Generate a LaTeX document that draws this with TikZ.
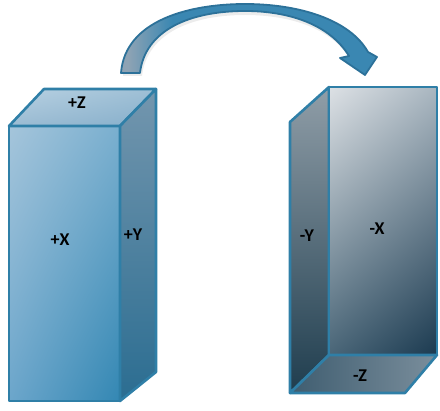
\documentclass[tikz,border=0pt]{standalone}
\usepackage{fontspec}
\setmainfont{Carlito}
\usetikzlibrary{shadings}
\definecolor{edgeblue}{HTML}{2F7FA7}
\definecolor{arrowblue}{HTML}{3A87B2}
\definecolor{arrowedge}{HTML}{2C7199}
\definecolor{tailgrey}{HTML}{8EA3B4}
% upright block palette
\definecolor{pxul}{HTML}{A5C5DB}
\definecolor{pxur}{HTML}{7AAFCF}
\definecolor{pxll}{HTML}{6CA6CB}
\definecolor{pxlr}{HTML}{3387B3}
\definecolor{pzul}{HTML}{B8D1E2}
\definecolor{pzur}{HTML}{9EBFD5}
\definecolor{pzll}{HTML}{9CBCD3}
\definecolor{pzlr}{HTML}{86AFCB}
\definecolor{pytop}{HTML}{7396AE}
\definecolor{pybot}{HTML}{2B6D91}
% flipped block palette
\definecolor{mytop}{HTML}{909EA8}
\definecolor{mybot}{HTML}{1F3D4E}
\definecolor{mxul}{HTML}{DDE1E5}
\definecolor{mxur}{HTML}{A9B6C0}
\definecolor{mxll}{HTML}{4A6678}
\definecolor{mxlr}{HTML}{1B3A50}
\definecolor{mzl}{HTML}{3F5D70}
\definecolor{mzr}{HTML}{7A8E9C}
\tikzset{
  face/.style={draw=edgeblue, line width=2.6pt, line join=round},
  lbl/.style={font=\fontsize{18}{20}\selectfont\bfseries, text=black, inner sep=0pt}
}
% outline of the curved arrow
\def\arrowpath{(121,73) .. controls (125,20) and (190,4) .. (245,4)
  .. controls (300,4) and (350,20) .. (368,52)
  -- (377,57) -- (365,75) -- (340,58) -- (349,56)
  .. controls (330,25) and (290,11) .. (245,11)
  .. controls (190,11) and (145,30) .. (140,73) -- cycle}
\begin{document}
\begin{tikzpicture}[x=1pt,y=-1pt]
\useasboundingbox (0,0) rectangle (440,411);

% soft shadow under the arrow
\fill[gray!30, opacity=0.5] (123,76) .. controls (127,24) and (192,8) .. (245,8)
  .. controls (300,8) and (348,24) .. (366,55) -- (350,59)
  .. controls (332,29) and (292,15) .. (245,15)
  .. controls (192,15) and (147,33) .. (142,76) -- cycle;
% arrow body: grey tail fading into blue
\begin{scope}
  \clip \arrowpath;
  \fill[arrowblue] (100,0) rectangle (400,90);
  \shade[left color=tailgrey, right color=arrowblue] (128,0) rectangle (172,90);
  \fill[tailgrey] (110,0) rectangle (128.5,90);
\end{scope}
\draw[draw=arrowedge, line width=1.8pt, line join=round] \arrowpath;

% upright block (positive faces)
\coordinate (ftl) at (9,126);
\coordinate (ftr) at (120,126);
\coordinate (fbl) at (9,401);
\coordinate (fbr) at (120,401);
\coordinate (btl) at (44,89);
\coordinate (btr) at (156,89);
\coordinate (bbr) at (156,372);

\shade[face, upper left=pxul, upper right=pxur, lower left=pxll, lower right=pxlr]
  (ftl) -- (ftr) -- (fbr) -- (fbl) -- cycle;
\shade[face, upper left=pzul, upper right=pzur, lower left=pzll, lower right=pzlr]
  (ftl) -- (btl) -- (btr) -- (ftr) -- cycle;
\shade[face, top color=pytop, bottom color=pybot]
  (ftr) -- (btr) -- (bbr) -- (fbr) -- cycle;

% flipped block (negative faces)
\coordinate (ytl) at (290,122);
\coordinate (ytr) at (329,87);
\coordinate (ybr) at (329,355);
\coordinate (ybl) at (290,393);
\coordinate (xtr) at (437,87);
\coordinate (xbr) at (437,355);
\coordinate (zfr) at (405,393);

\shade[face, top color=mytop, bottom color=mybot]
  (ytl) -- (ytr) -- (ybr) -- (ybl) -- cycle;
\shade[face, upper left=mxul, upper right=mxur, lower left=mxll, lower right=mxlr]
  (ytr) -- (xtr) -- (xbr) -- (ybr) -- cycle;
\shade[face, left color=mzl, right color=mzr]
  (ybl) -- (ybr) -- (xbr) -- (zfr) -- cycle;

% face labels
\node[lbl] (pz) at (77,103) {+Z};
\node[lbl] (px) at (60,240) {+X};
\node[lbl] (py) at (133,235) {+Y};
\node[lbl] (my) at (307,236) {-Y};
\node[lbl] (mx) at (377,229) {-X};
\node[lbl] (mz) at (360,376) {-Z};
\end{tikzpicture}
\end{document}
